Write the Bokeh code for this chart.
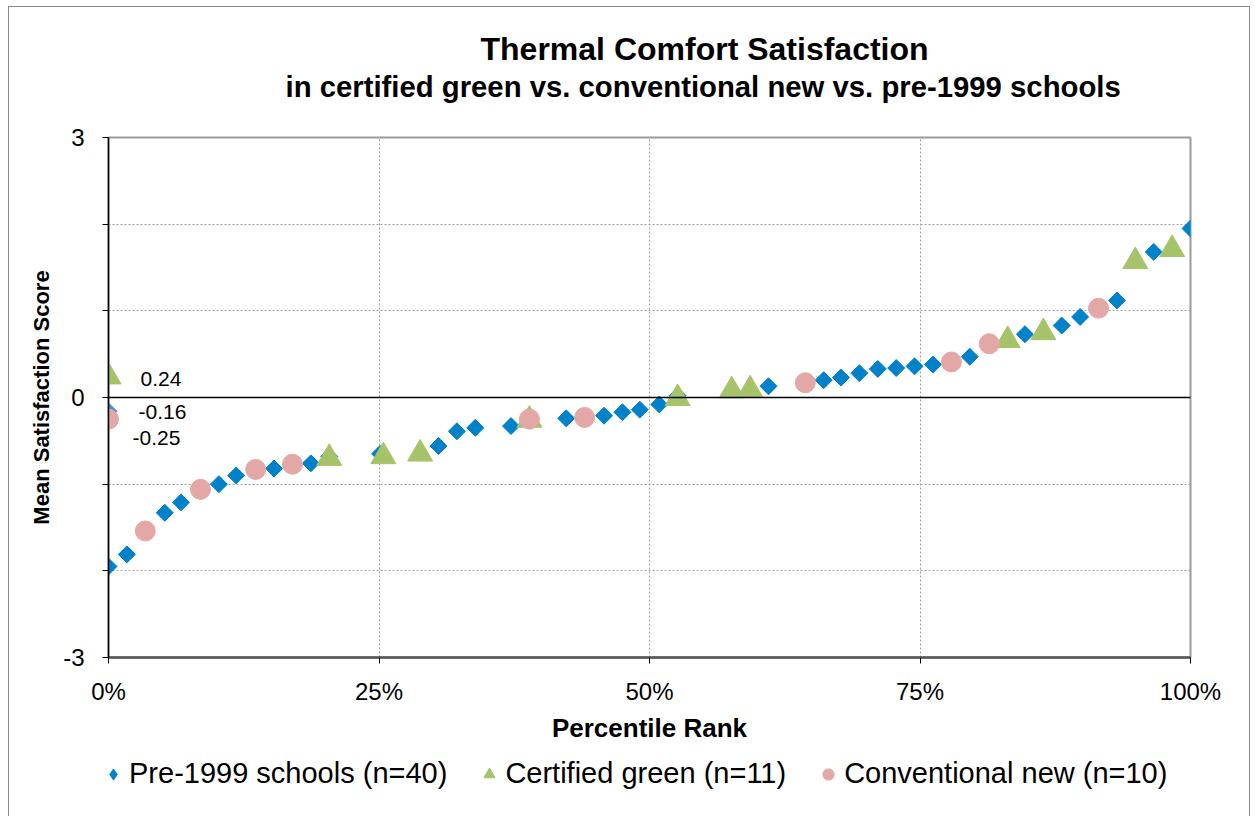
import math
from bokeh.plotting import figure
from bokeh.layouts import column
from bokeh.models import Range1d, FixedTicker, Span, Legend, LegendItem, Title
from bokeh.embed import file_html
from bokeh.resources import INLINE
from bokeh.core.properties import value

# ---------------- data ----------------
title_line1 = "Thermal Comfort Satisfaction"
title_line2 = "in certified green vs. conventional new vs. pre-1999 schools"
x_title = "Percentile Rank"
y_title = "Mean Satisfaction Score"

x_ticks = [0, 25, 50, 75, 100]
x_tick_labels = ["0%", "25%", "50%", "75%", "100%"]
y_ticks = [-3, 0, 3]
y_minor_ticks = [-2, -1, 1, 2]

pre_label = "Pre-1999 schools (n=40)"
pre_x = [0.0, 1.7, 5.2, 6.7, 10.2, 11.8, 15.3, 18.7, 20.4, 25.1, 30.5, 32.2, 33.9,
         37.2, 42.3, 45.8, 47.5, 49.1, 50.9, 52.6, 61.0, 66.1, 67.7, 69.4, 71.1,
         72.8, 74.5, 76.2, 79.6, 84.7, 88.1, 89.8, 93.2, 96.6, 100.0]
pre_y = [-1.95, -1.81, -1.33, -1.21, -1.00, -0.90, -0.82, -0.76, -0.68, -0.65, -0.56,
         -0.39, -0.35, -0.33, -0.24, -0.21, -0.17, -0.14, -0.08, 0.02, 0.13, 0.20,
         0.23, 0.28, 0.33, 0.34, 0.36, 0.38, 0.47, 0.73, 0.83, 0.93, 1.12, 1.68, 1.95]

green_label = "Certified green (n=11)"
green_x = [20.4, 25.4, 28.8, 38.9, 52.6, 57.6, 59.3, 83.1, 86.4, 94.9, 98.3]
green_y = [-0.70, -0.68, -0.65, -0.26, -0.01, 0.08, 0.09, 0.66, 0.75, 1.57, 1.71]

conv_label = "Conventional new (n=10)"
conv_x = [3.4, 8.5, 13.6, 17.0, 38.9, 44.0, 64.4, 77.9, 81.4, 91.5]
conv_y = [-1.54, -1.06, -0.83, -0.77, -0.25, -0.23, 0.17, 0.41, 0.62, 1.03]

# group means, plotted at 0 %
mean_green = 0.24
mean_pre = -0.16
mean_conv = -0.25

BLUE = "#0082CA"
BLUE_MEAN = "#4A8FD4"
GREEN = "#A6C36A"
PINK = "#E3A7A6"
FONT = "Liberation Sans"
BORDER = "#8a8a8a"

# ---------------- main figure ----------------
p = figure(width=1250, height=752, x_range=Range1d(0, 100), y_range=Range1d(-3, 3),
           output_backend="svg", toolbar_location=None,
           min_border_left=108, min_border_right=60, min_border_top=137, min_border_bottom=95)
p.title = None
p.frame_align = False
p.background_fill_color = "white"
p.border_fill_color = None
p.outline_line_color = "#9a9a9a"
p.outline_line_width = 2

# title block: spacer nearest the plot, then subtitle, then main title
p.add_layout(Title(text=" ", standoff=21, text_font=FONT, text_font_size="10px"), "above")
p.add_layout(Title(text=title_line2, align="left", offset=177, standoff=2,
                   text_font=FONT, text_font_size="29.3px", text_font_style="bold",
                   text_color="black"), "above")
p.add_layout(Title(text=title_line1, align="left", offset=372, standoff=0,
                   text_font=FONT, text_font_size="32px", text_font_style="bold",
                   text_color="black"), "above")

# axes
p.xaxis.ticker = FixedTicker(ticks=x_ticks)
p.xaxis.major_label_overrides = {t: l for t, l in zip(x_ticks, x_tick_labels)}
p.xaxis.axis_label = x_title
p.yaxis.ticker = FixedTicker(ticks=y_ticks, minor_ticks=y_minor_ticks)
p.yaxis.major_label_overrides = {t: str(t) for t in y_ticks}
p.yaxis.axis_label = y_title

for ax in (p.xaxis[0], p.yaxis[0]):
    ax.major_label_text_font = FONT
    ax.major_label_text_font_size = "24px"
    ax.major_label_text_color = "black"
    ax.axis_label_text_font = FONT
    ax.axis_label_text_font_style = "bold"
    ax.axis_label_text_color = "black"
    ax.major_tick_in = 0
    ax.major_tick_out = 6
    ax.major_tick_line_color = "black"
    ax.minor_tick_in = 0
    ax.minor_tick_out = 6
    ax.minor_tick_line_color = "black"

p.xaxis.axis_label_text_font_size = "26px"
p.yaxis.axis_label_text_font_size = "22px"
p.xaxis.axis_line_color = "#555555"
p.xaxis.axis_line_width = 2.5
p.xaxis.major_label_standoff = 14
p.xaxis.axis_label_standoff = 5
p.yaxis.axis_line_color = "black"
p.yaxis.axis_line_width = 1.5
p.yaxis.major_label_standoff = 18
p.yaxis.axis_label_standoff = 6

# grids
p.xgrid.ticker = FixedTicker(ticks=x_ticks)
p.xgrid.grid_line_color = "#a0a0a0"
p.xgrid.grid_line_dash = "2 2"
p.ygrid.grid_line_color = None
p.ygrid.minor_grid_line_color = "#a0a0a0"
p.ygrid.minor_grid_line_dash = "2 2"

p.add_layout(Span(location=0, dimension="width", line_color="black", line_width=1.5))

# series (drawn in Excel series order)
r_pre = p.scatter(pre_x, pre_y, marker="square", angle=math.pi / 4, size=12,
                  fill_color=BLUE, line_color=BLUE)
r_green = p.scatter(green_x, green_y, marker="triangle", size=25,
                    fill_color=GREEN, line_color=GREEN)
r_conv = p.scatter(conv_x, conv_y, marker="circle", size=20,
                   fill_color=PINK, line_color=PINK)

# means at 0 %
p.scatter([0], [mean_green], marker="triangle", size=25, fill_color=GREEN, line_color=GREEN)
p.scatter([0], [mean_pre], marker="square", angle=math.pi / 4, size=12,
          fill_color=BLUE_MEAN, line_color=BLUE_MEAN)
p.scatter([0], [mean_conv], marker="circle", size=20, fill_color=PINK, line_color=PINK)

means = [mean_green, mean_pre, mean_conv]
p.text(x=[0, 0, 0], y=means, text=[f"{m:.2f}" for m in means],
       x_offset=[32, 30, 24], y_offset=[2, 1, 19],
       text_font=value(FONT), text_font_size="21px", text_color="black",
       text_align="left", text_baseline="middle")

# ---------------- legend strip ----------------
lf = figure(width=1250, height=64, x_range=Range1d(0, 1), y_range=Range1d(0, 1),
            output_backend="svg", toolbar_location=None,
            x_axis_type=None, y_axis_type=None, min_border=0)
lf.title = None
lf.frame_align = False
lf.outline_line_color = None
lf.background_fill_color = None
lf.border_fill_color = None
lf.grid.visible = False
nan = float("nan")
lg_pre = lf.scatter([nan], [nan], marker="diamond", fill_color=BLUE, line_color=BLUE)
lg_green = lf.scatter([nan], [nan], marker="triangle", fill_color=GREEN, line_color=GREEN)
lg_conv = lf.scatter([nan], [nan], marker="circle", fill_color=PINK, line_color=PINK)
legend = Legend(items=[LegendItem(label=pre_label, renderers=[lg_pre]),
                       LegendItem(label=green_label, renderers=[lg_green]),
                       LegendItem(label=conv_label, renderers=[lg_conv])],
                orientation="horizontal", location=(99, 26),
                label_text_font=FONT, label_text_font_size="29px", label_text_color="black",
                glyph_width=28, glyph_height=28, label_standoff=2, spacing=28,
                padding=0, margin=0, border_line_color=None, background_fill_alpha=0)
lf.add_layout(legend, "center")

# chart-area border (left, top, right edges) painted behind the transparent figures
chart_border = (
    f"linear-gradient({BORDER},{BORDER}) 8px 6px / 1px 810px no-repeat, "
    f"linear-gradient({BORDER},{BORDER}) 8px 6px / 1242px 1px no-repeat, "
    f"linear-gradient({BORDER},{BORDER}) 1249px 6px / 1px 810px no-repeat, "
    "#ffffff"
)
layout = column(p, lf, spacing=0, styles={"background": chart_border})
open("out.html", "w").write(file_html(layout, INLINE))
